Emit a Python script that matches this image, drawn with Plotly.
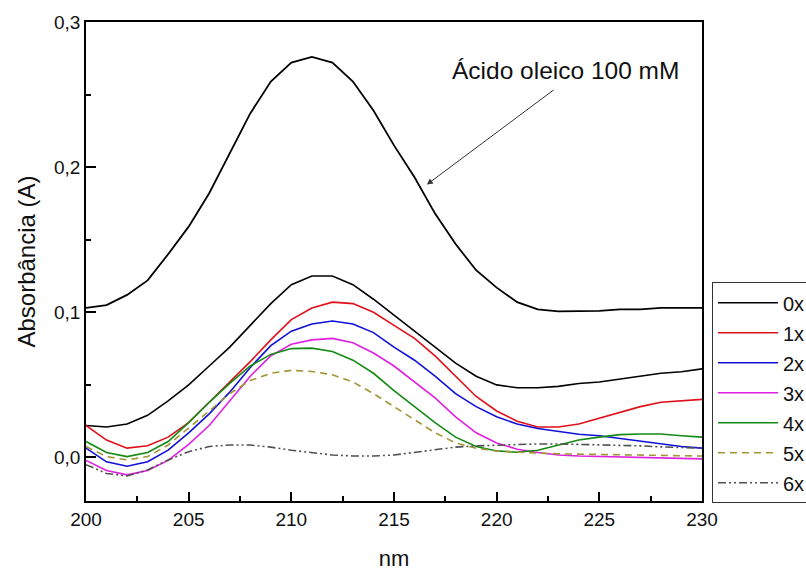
import plotly.graph_objects as go

# ---- data ----
wavelength = list(range(200, 231))

oleic_100mM = [0.103, 0.105, 0.112, 0.122, 0.140, 0.159, 0.182, 0.209, 0.237, 0.259,
               0.272, 0.276, 0.272, 0.259, 0.239, 0.215, 0.193, 0.168, 0.147, 0.129,
               0.117, 0.107, 0.102, 0.1006, 0.1006, 0.101, 0.102, 0.102, 0.103, 0.103, 0.103]

s0x = [0.022, 0.021, 0.023, 0.029, 0.039, 0.050, 0.063, 0.076, 0.091, 0.106,
       0.119, 0.125, 0.125, 0.119, 0.109, 0.098, 0.087, 0.076, 0.065, 0.056,
       0.050, 0.048, 0.048, 0.049, 0.051, 0.052, 0.054, 0.056, 0.058, 0.059, 0.061]

s1x = [0.022, 0.012, 0.0064, 0.008, 0.014, 0.024, 0.038, 0.052, 0.066, 0.081,
       0.095, 0.103, 0.107, 0.106, 0.100, 0.091, 0.082, 0.070, 0.056, 0.042,
       0.032, 0.025, 0.021, 0.021, 0.023, 0.027, 0.031, 0.035, 0.038, 0.039, 0.040]

s2x = [0.0064, -0.003, -0.006, -0.003, 0.005, 0.017, 0.030, 0.045, 0.062, 0.077,
       0.087, 0.092, 0.094, 0.092, 0.086, 0.076, 0.067, 0.056, 0.044, 0.035,
       0.028, 0.023, 0.020, 0.018, 0.016, 0.015, 0.013, 0.011, 0.009, 0.0075, 0.0064]

s3x = [-0.002, -0.009, -0.012, -0.009, -0.002, 0.009, 0.022, 0.039, 0.056, 0.070,
       0.078, 0.081, 0.082, 0.079, 0.072, 0.063, 0.052, 0.041, 0.028, 0.017,
       0.010, 0.0057, 0.0034, 0.0017, 0.001, 0.0006, 0.0001, -0.0003, -0.0005, -0.0008, -0.001]

s4x = [0.011, 0.0034, 0.0006, 0.0034, 0.011, 0.024, 0.038, 0.051, 0.063, 0.071,
       0.075, 0.0753, 0.073, 0.067, 0.058, 0.046, 0.035, 0.024, 0.014, 0.0075,
       0.0045, 0.0036, 0.005, 0.0086, 0.012, 0.014, 0.0157, 0.0162, 0.0162, 0.015, 0.014]

s5x = [0.0075, 0.0006, -0.0017, 0.0006, 0.0086, 0.020, 0.032, 0.044, 0.053, 0.058,
       0.060, 0.0592, 0.057, 0.052, 0.044, 0.035, 0.026, 0.017, 0.010, 0.0064,
       0.0045, 0.0036, 0.003, 0.0025, 0.0022, 0.002, 0.0018, 0.0016, 0.0015, 0.0012, 0.001]

s6x = [-0.005, -0.011, -0.0128, -0.0086, -0.0017, 0.004, 0.0075, 0.0086, 0.0086, 0.0071,
       0.005, 0.0034, 0.0017, 0.001, 0.001, 0.0017, 0.0034, 0.005, 0.0071, 0.008,
       0.0086, 0.009, 0.0093, 0.0093, 0.009, 0.009, 0.0086, 0.008, 0.0073, 0.0068, 0.0064]

series_names = ["0x", "1x", "2x", "3x", "4x", "5x", "6x"]
series_values = [s0x, s1x, s2x, s3x, s4x, s5x, s6x]
series_colors = ["#000000", "#e0101a", "#1010d8", "#e020e0", "#148a14", "#a09535", "#505050"]
series_dash = ["solid", "solid", "solid", "solid", "solid", "7px,5px", "8px,3px,2px,3px,2px,3px"]

annotation_text = "Ácido oleico 100 mM"
x_title = "nm"
y_title = "Absorbância (A)"

FONT = "Liberation Sans, Arial, sans-serif"

fig = go.Figure()

fig.add_trace(go.Scatter(x=wavelength, y=oleic_100mM, mode="lines",
                         line=dict(color="#000000", width=1.8),
                         showlegend=False, name=annotation_text))

for i, (nm_, vals, col, dsh) in enumerate(zip(series_names, series_values, series_colors, series_dash)):
    fig.add_trace(go.Scatter(x=wavelength, y=vals, mode="lines", name=nm_,
                             legendgroup="g%d" % i,
                             line=dict(color=col, width=1.6, dash=dsh)))

fig.add_annotation(x=223.33, y=0.2665, xref="x", yref="y", text=annotation_text,
                   showarrow=False, font=dict(family=FONT, size=24.5, color="#111111"))
fig.add_annotation(x=216.6, y=0.188, xref="x", yref="y", text="",
                   showarrow=True, ax=222.85, ay=0.254, axref="x", ayref="y",
                   arrowhead=2, arrowsize=1.2, arrowwidth=1, arrowcolor="#333333", standoff=0)

fig.update_layout(
    width=806, height=572,
    margin=dict(l=86, r=104, t=22, b=71, autoexpand=False),
    paper_bgcolor="white", plot_bgcolor="white",
    separators=", ",
    font=dict(family=FONT, color="#111111"),
    legend=dict(x=1.0162, xanchor="left", y=0.4566, yanchor="top",
                bordercolor="#333333", borderwidth=1, bgcolor="white",
                font=dict(family=FONT, size=20, color="#111111"),
                tracegroupgap=1, itemwidth=60),
)

fig.update_xaxes(range=[200, 230], dtick=5, tick0=200, ticks="inside", ticklen=9, tickwidth=1.5,
                 tickcolor="black", showline=True, linecolor="black", linewidth=1.5, mirror=True,
                 showgrid=False, zeroline=False,
                 minor=dict(dtick=2.5, ticks="inside", ticklen=5, tickwidth=1.5, tickcolor="black"),
                 tickfont=dict(family=FONT, size=19, color="#111111"),
                 title=dict(text=x_title, font=dict(family=FONT, size=22, color="#111111"), standoff=22))

fig.update_yaxes(range=[-0.03, 0.3], dtick=0.1, tick0=0, tickformat=".1f", ticks="inside", ticklen=10,
                 tickwidth=1.5, tickcolor="black", showline=True, linecolor="black", linewidth=1.5,
                 mirror=True, showgrid=False, zeroline=False,
                 minor=dict(dtick=0.05, ticks="inside", ticklen=5, tickwidth=1.5, tickcolor="black"),
                 tickfont=dict(family=FONT, size=19, color="#111111"),
                 title=dict(text=y_title, font=dict(family=FONT, size=24, color="#111111"), standoff=12))

fig.write_html("out.html")
